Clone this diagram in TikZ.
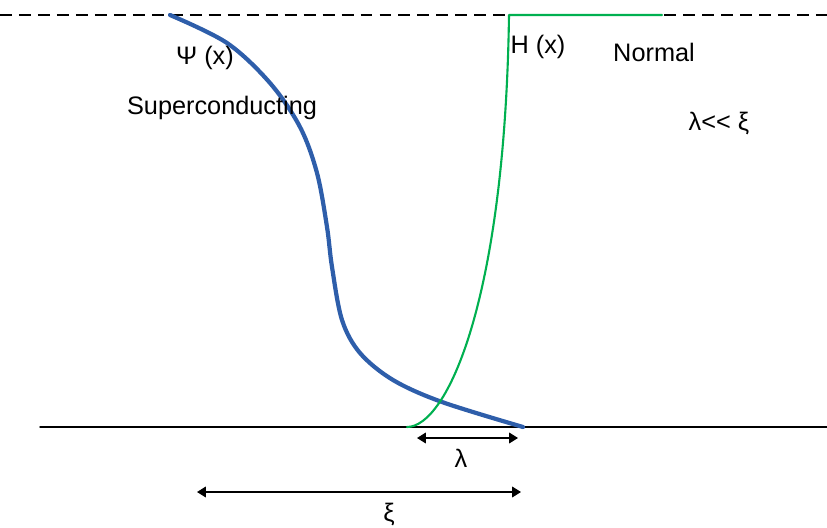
\documentclass[tikz,border=0pt]{standalone}
\usepackage{fontspec}
\setmainfont{Liberation Sans}
\usepackage{xcolor}
\usetikzlibrary{arrows.meta,positioning}
\definecolor{psiblue}{RGB}{46,94,170}
\definecolor{hgreen}{RGB}{0,176,80}

\begin{document}
\begin{tikzpicture}[x=0.02cm,y=-0.02cm,
          line cap=round,line join=round,
          lbl/.style={font=\fontsize{14.4pt}{17pt}\selectfont,inner sep=0pt},
          dim/.style={draw=black,line width=0.9pt,{Triangle[length=5pt,width=6pt]}-{Triangle[length=5pt,width=6pt]}},
          psi/.style={draw=psiblue,line width=2.4pt},
          field/.style={draw=hgreen,line width=1.2pt}]
        \useasboundingbox (0,0) rectangle (827,527);
        % reference lines
        \draw[line width=0.8pt,line cap=butt,dash pattern=on 6.8pt off 4pt] (0,15) -- (827,15);
        \draw[line width=0.8pt] (40,427) -- (827,427);

        % order parameter
        \draw[psi] plot[smooth,tension=0.55] coordinates {(170,15) (227,43) (270,83) (300,127)
          (317,173) (327,227) (332,267) (342,320) (360,353) (393,380) (442,402) (523,427)};

        % field
        \coordinate (hbot) at (407,427);
        \coordinate (htop) at (509,15);
        \coordinate (hend) at (662,15);
        \draw[field] (hbot) .. controls (447,427) and (505,300) .. (htop) -- (hend);

        % dimensions
        \coordinate (lamL) at (417,438);
        \coordinate (lamR) at (518,438);
        \coordinate (xiL) at (197,492);
        \coordinate (xiR) at (521,492);
        \draw[dim] (lamL) -- (lamR);
        \draw[dim] (xiL) -- (xiR);

        \node[lbl] (lam) at (461,458) {λ};
        \node[lbl] (xi) at (389,515) {ξ};
        \node[lbl] (psilbl) at (205,58) {Ψ (x)};
        \node[lbl] (sc) at (222,108) {Superconducting};
        \node[lbl] (hlbl) at (538,47) {H (x)};
        \node[lbl] (norm) at (654,52) {Normal};
        \node[lbl] (ratio) at (719,124) {λ<\kern0pt< ξ};
      \end{tikzpicture}
\end{document}
